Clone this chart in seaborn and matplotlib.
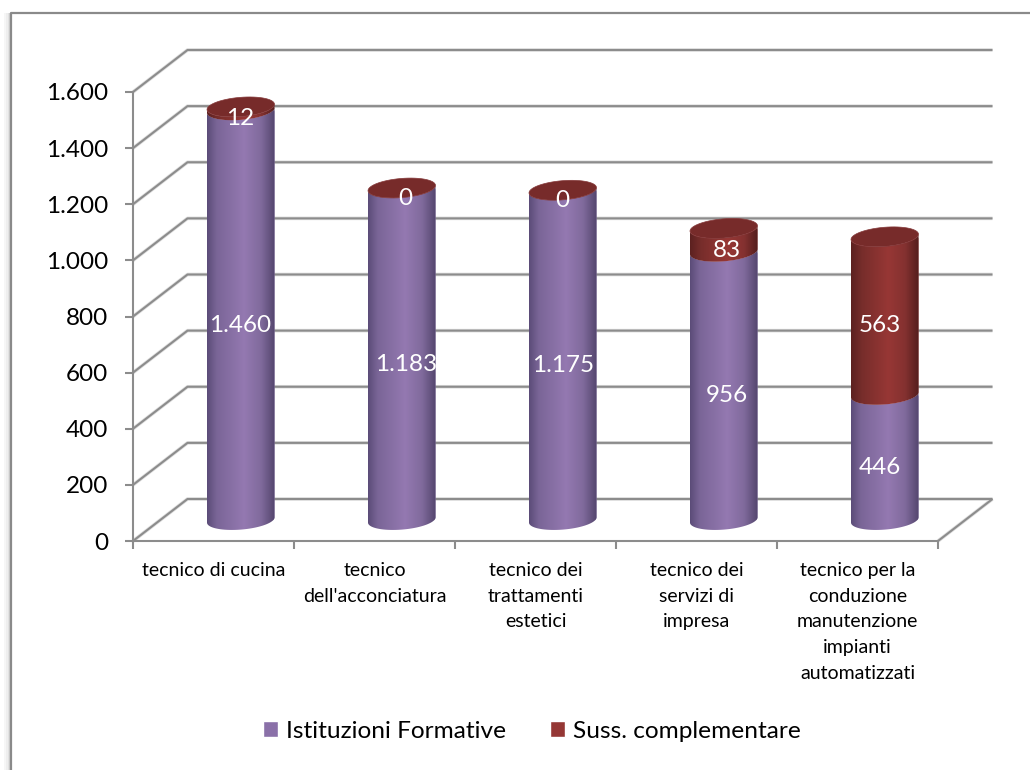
import numpy as np
import matplotlib
matplotlib.use("Agg")
import matplotlib.pyplot as plt
import seaborn as sns
from matplotlib.lines import Line2D
from matplotlib.patches import PathPatch, Rectangle
from matplotlib.path import Path
from matplotlib.colors import LinearSegmentedColormap
from matplotlib.transforms import Affine2D

categories = ["tecnico di cucina", "tecnico\ndell'acconciatura",
              "tecnico dei\ntrattamenti\nestetici", "tecnico dei\nservizi di\nimpresa",
              "tecnico per la\nconduzione\nmanutenzione\nimpianti\nautomatizzati"]
istituzioni = [1460, 1183, 1175, 956, 446]
sussidiaria = [12, 0, 0, 83, 563]
ist_labels = ["1.460", "1.183", "1.175", "956", "446"]
sus_labels = ["12", "0", "0", "83", "563"]
y_ticks = [0, 200, 400, 600, 800, 1000, 1200, 1400, 1600]
y_tick_labels = ["0", "200", "400", "600", "800", "1.000", "1.200", "1.400", "1.600"]
series_names = ["Istituzioni Formative", "Suss. complementare"]

W, H = 1030, 770
X0, X1, Y_TOP, Y_BOT = 133, 938, 92, 541
DEPTH_X, DEPTH_Y = 54.5 / 161, 42 / (449 / 1600)   # 3d wall offset in data units
GRID = "#8c8c8c"
PURPLE = "#8a70a8"
RED = "#953735"
label_shift = [-1, 4, 0, 3, -5]

sns.set_theme(style="white")
plt.rcParams["font.family"] = ["Lato", "DejaVu Sans"]

fig = plt.figure(figsize=(W / 100, H / 100), dpi=100, facecolor="white")

# chart frame runs off the image on the right and bottom, soft shadow on the left
for off, col in [(7, "#f6f6f6"), (5, "#eeeeee"), (3, "#e2e2e2"), (1.5, "#d0d0d0")]:
    fig.add_artist(Rectangle(((10.5 - off) / W, 0), off / W, 1 - 13 / H, color=col, lw=0, zorder=-2))
fig.add_artist(Line2D([10.5 / W, 10.5 / W, 1], [0, 1 - 12.5 / H, 1 - 12.5 / H], color="#8a8a8a", lw=1.6, zorder=-1))

ax = fig.add_axes([X0 / W, 1 - Y_BOT / H, (X1 - X0) / W, (Y_BOT - Y_TOP) / H])
ax.patch.set_alpha(0)

n = len(categories)
bar_w = 67.5 / 161
sns.barplot(x=categories, y=istituzioni, color=PURPLE, saturation=1, width=bar_w, ax=ax,
            label=series_names[0], zorder=3)
sns.barplot(x=categories, y=sussidiaria, bottom=istituzioni, color=RED, saturation=1, width=bar_w, ax=ax,
            label=series_names[1], zorder=3)
ax.set_xlim(-0.5, n - 0.5)
ax.set_ylim(0, 1600)


def wall_line(xs, ys):
    ax.plot(xs, ys, color="#dedede", lw=2.6, clip_on=False, zorder=1, solid_capstyle="butt")
    ax.plot(xs, ys, color=GRID, lw=1.5, clip_on=False, zorder=1.1, solid_capstyle="butt")


# back wall, left side wall and floor
for v in y_ticks:
    wall_line([-0.5, -0.5 + DEPTH_X, n - 0.5 + DEPTH_X], [v, v + DEPTH_Y, v + DEPTH_Y])
wall_line([n - 0.5, n - 0.5 + DEPTH_X], [0, DEPTH_Y])

# axes
for side in ["top", "right"]:
    ax.spines[side].set_visible(False)
for side in ["left", "bottom"]:
    ax.spines[side].set_color(GRID)
    ax.spines[side].set_linewidth(1.5)
    ax.spines[side].set_zorder(1.2)
ax.set_yticks(y_ticks)
ax.set_yticklabels(y_tick_labels)
ax.tick_params(axis="y", length=6, width=1.5, color=GRID, labelsize=17.5, labelcolor="black", pad=12, left=True)
ax.set_xticks(range(n))
ax.set_xticklabels(categories, linespacing=1.62)
ax.set_xticks(np.arange(n + 1) - 0.5, minor=True)
ax.tick_params(axis="x", which="major", length=0, labelsize=14, labelcolor="black", pad=15)
ax.tick_params(axis="x", which="minor", length=6, width=1.5, color=GRID, bottom=True)
ax.set_xlabel("")
ax.set_ylabel("")

# cylinders are built on the bars seaborn placed
px_y = 449 / 1600
ELL_B = 9.6 / px_y
ELL_S = 2.6 / px_y
shift = Affine2D().translate(DEPTH_X / 2, DEPTH_Y / 2)
cm_purple = LinearSegmentedColormap.from_list("p", [(0, "#5b4c78"), (0.14, "#7a6597"), (0.55, "#9479b1"),
                                                    (0.8, "#806a9c"), (1, "#54466e")])
cm_red = LinearSegmentedColormap.from_list("r", [(0, "#5c2120"), (0.16, "#772d2b"), (0.55, "#973735"),
                                                 (0.8, "#843130"), (1, "#541e1d")])


def arc(xc, a, yc, t0, t1):
    t = np.linspace(t0, t1, 60)
    return np.column_stack([xc + a * np.cos(t), yc + ELL_B * np.sin(t) + ELL_S * np.cos(t)])


def cylinder(bar, cmap, z):
    xc = bar.get_x() + bar.get_width() / 2 + DEPTH_X / 2
    a = bar.get_width() / 2
    low = bar.get_y() + DEPTH_Y / 2
    top = low + bar.get_height()
    pts = np.vstack([arc(xc, a, low, np.pi, 2 * np.pi), arc(xc, a, top, 2 * np.pi, np.pi), [[xc - a, low]]])
    shape = PathPatch(Path(pts), fc="none", ec="none", zorder=z, clip_on=False)
    ax.add_patch(shape)
    bar.set_transform(shift + ax.transData)
    bar.set_clip_path(shape)
    im = ax.imshow(np.linspace(0, 1, 128).reshape(1, -1), cmap=cmap, aspect="auto", zorder=z,
                   extent=[xc - a, xc + a, low - 2 * ELL_B, top + 2 * ELL_B], interpolation="bilinear")
    im.set_clip_path(shape)


bars = list(ax.patches)
purple_bars, red_bars = bars[:n], bars[n:n * 2]
for i in range(n):
    cylinder(purple_bars[i], cm_purple, 3 + i * 0.1)
    if sussidiaria[i] > 0:
        cylinder(red_bars[i], cm_red, 3.02 + i * 0.1)
    b = red_bars[i]
    xc = b.get_x() + b.get_width() / 2 + DEPTH_X / 2
    top = b.get_y() + b.get_height() + DEPTH_Y / 2
    cap = arc(xc, b.get_width() / 2, top, 0, 2 * np.pi)
    ax.add_patch(PathPatch(Path(cap), fc="#772b2a", ec="#85393a", lw=0.5, zorder=3.04 + i * 0.1, clip_on=False))

# value labels, sitting a little below the segment centre
for i in range(n):
    for bar, text in [(purple_bars[i], ist_labels[i]), (red_bars[i], sus_labels[i])]:
        xc = bar.get_x() + bar.get_width() / 2 + DEPTH_X / 2 + label_shift[i] / 161
        yc = bar.get_y() + bar.get_height() / 2 + DEPTH_Y / 2 - 10 / px_y
        ax.text(xc, yc, text, color="white", fontsize=17.5, ha="center", va="center", zorder=5, clip_on=False)

ax.set_xlim(-0.5, n - 0.5)
ax.set_ylim(0, 1600)

handles, labels = ax.get_legend_handles_labels()
if ax.get_legend() is not None:
    ax.get_legend().remove()
fig.legend(handles, labels, loc="center", bbox_to_anchor=(532 / W, 1 - 731 / H), frameon=False, ncol=2,
           fontsize=17.6, handlelength=0.62, handleheight=0.62, handletextpad=0.33, columnspacing=1.78,
           labelcolor="black")

fig.savefig("out.png", dpi=100)
